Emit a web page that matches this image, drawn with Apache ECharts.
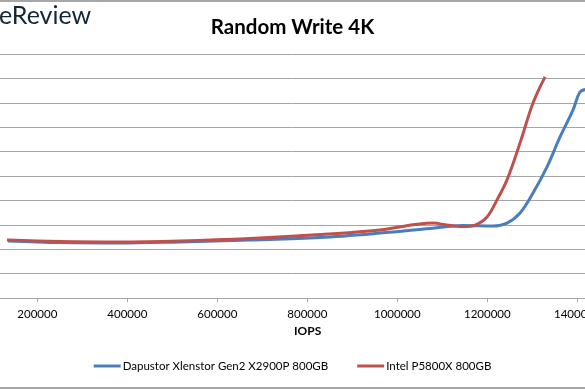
<!DOCTYPE html>
<html>
<head>
<meta charset="utf-8">
<script src="https://cdn.jsdelivr.net/npm/echarts@6/dist/echarts.min.js"></script>
<style>html,body{margin:0;padding:0;background:#fff}#c{width:585px;height:390px}</style>
</head>
<body>
<div id="c"></div>
<script>
// IOPS (x) and latency in microseconds (y)
const dapustorIOPS = [134900, 250400, 383800, 517100, 672700, 828200, 961600, 1072700, 1146000, 1212700, 1243800, 1272700, 1301600, 1332700, 1361600, 1390400, 1406000, 1420000];
const dapustorLat  = [23.4, 22.7, 22.5, 23.0, 23.8, 24.8, 26.6, 28.5, 29.7, 29.5, 30.7, 34.8, 43.0, 53.7, 66.0, 77.0, 84.4, 85.5];
const intelIOPS = [132700, 250400, 383800, 517100, 672700, 828200, 961600, 1079300, 1110400, 1146000, 1172700, 1199300, 1221600, 1243800, 1272700, 1301600, 1328300];
const intelLat  = [23.8, 23.2, 23.0, 23.4, 24.4, 26.0, 27.9, 30.7, 29.9, 29.3, 29.9, 33.2, 40.2, 48.4, 63.5, 79.9, 90.6];
const seriesNames = ['Dapustor Xlenstor Gen2 X2900P 800GB', 'Intel P5800X 800GB'];
const xTicks = [200000, 400000, 600000, 800000, 1000000, 1200000, 1400000];
// visible window of the (cropped) x axis
const xViewMin = 117100, xViewMax = 1417100;

const font = 'Lato, "Liberation Sans", sans-serif';
const chart = echarts.init(document.getElementById('c'), null, {renderer: 'canvas'});
const pair = (xs, ys) => xs.map((x, i) => [x, ys[i]]);
chart.setOption({
  animation: false,
  backgroundColor: '#fff',
  title: {
    text: 'Random Write 4K', left: 'center', top: 12,
    textStyle: {fontFamily: font, fontWeight: 'bold', fontSize: 20.5, color: '#000'}
  },
  graphic: [
    {type: 'text', left: -1, top: 3, style: {text: 'eReview', fontFamily: font, fontSize: 25, fill: '#142636'}},
    {type: 'text', left: 294, top: 325, style: {text: 'IOPS', fontFamily: font, fontSize: 12, fontWeight: 'bold', fill: '#000'}},
    {type: 'rect', shape: {x: 0, y: 0, width: 585, height: 2}, style: {fill: '#a6a6a6'}},
    {type: 'rect', shape: {x: 0, y: 387, width: 585, height: 2}, style: {fill: '#a6a6a6'}}
  ],
  legend: {
    bottom: 13, left: 'center', itemWidth: 27, itemHeight: 3, itemGap: 29,
    icon: 'rect',
    textStyle: {fontFamily: font, fontSize: 11.5, color: '#000', padding: [0, 0, 0, -3]},
    data: seriesNames
  },
  grid: {left: 0, right: 0, top: 54, bottom: 92, containLabel: false, outerBoundsMode: 'none'},
  xAxis: {
    type: 'value', min: xViewMin, max: xViewMax,
    axisLine: {lineStyle: {color: '#a6a6a6', width: 1}},
    axisTick: {show: true, length: 4, customValues: xTicks, lineStyle: {color: '#a6a6a6'}},
    axisLabel: {fontFamily: font, fontSize: 11.5, color: '#000', margin: 10,
                customValues: xTicks, formatter: v => String(v), hideOverlap: false},
    splitLine: {show: false}
  },
  yAxis: {
    type: 'value', min: 0, max: 100, interval: 10,
    axisLine: {show: false}, axisTick: {show: false}, axisLabel: {show: false},
    splitLine: {lineStyle: {color: '#a6a6a6', width: 1}}
  },
  series: [
    {name: seriesNames[0], type: 'line', smooth: 0.35, showSymbol: false, clip: true,
     data: pair(dapustorIOPS, dapustorLat), lineStyle: {color: '#4a7ebb', width: 3}, itemStyle: {color: '#4a7ebb'}},
    {name: seriesNames[1], type: 'line', smooth: 0.35, showSymbol: false, clip: true,
     data: pair(intelIOPS, intelLat), lineStyle: {color: '#c0504d', width: 3}, itemStyle: {color: '#c0504d'}}
  ]
});
</script>
</body>
</html>
